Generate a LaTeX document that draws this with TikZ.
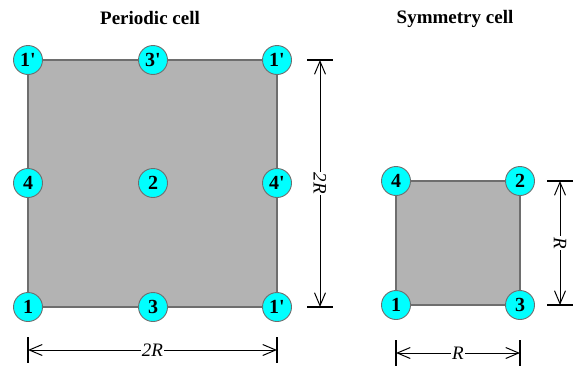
\documentclass[tikz,border=0pt]{standalone}
\usepackage{fontspec}
\setmainfont{Liberation Serif}
\usetikzlibrary{arrows.meta}
\definecolor{cellgray}{HTML}{B3B3B3}
\definecolor{edgegray}{HTML}{6E6E6E}
\definecolor{dotcyan}{HTML}{00FFFF}
\newcommand{\pr}{\textquotesingle}
\begin{document}
\begin{tikzpicture}[x=1pt,y=-1pt,
  cellbox/.style={fill=cellgray,draw=edgegray,line width=1.4pt},
  pt/.style={circle,fill=dotcyan,draw=edgegray,line width=0.9pt,minimum size=29pt,inner sep=0pt,font=\fontsize{20}{20}\selectfont\bfseries},
  title/.style={font=\fontsize{19}{20}\selectfont\bfseries},
  dimline/.style={line width=1pt,{Straight Barb[length=13pt,width=11pt]}-{Straight Barb[length=13pt,width=11pt]}},
  tick/.style={line width=1.1pt},
  dimlabel/.style={fill=white,inner sep=1pt,font=\fontsize{19}{19}\selectfont\itshape}]
\useasboundingbox (0,0) rectangle (580,367);
% titles
\node[title] (t1) at (150,18) {Periodic cell};
\node[title] (t2) at (455,19) {Symmetry cell};
% big cell
\draw[cellbox] (28,60) rectangle (277,307);
\node[pt] (a1) at (28,60) {1\pr};
\node[pt] (a2) at (153,60) {3\pr};
\node[pt] (a3) at (277,60) {1\pr};
\node[pt] (a4) at (28,183) {4};
\node[pt] (a5) at (153,183) {2};
\node[pt] (a6) at (277,183) {4\pr};
\node[pt] (a7) at (28,307) {1};
\node[pt] (a8) at (153,307) {3};
\node[pt] (a9) at (277,307) {1\pr};
% small cell
\draw[cellbox] (396,181) rectangle (520,305);
\node[pt] (b1) at (396,181) {4};
\node[pt] (b2) at (520,181) {2};
\node[pt] (b3) at (396,305) {1};
\node[pt] (b4) at (520,305) {3};
% dimension coordinates
\coordinate (v1t) at (320,60); \coordinate (v1b) at (320,307);
\coordinate (h1l) at (28,350); \coordinate (h1r) at (277,350);
\coordinate (v2t) at (560,181); \coordinate (v2b) at (560,305);
\coordinate (h2l) at (396,353); \coordinate (h2r) at (520,353);
% ticks
\draw[tick] (307,60) -- (333,60);
\draw[tick] (307,307) -- (333,307);
\draw[tick] (28,337) -- (28,363);
\draw[tick] (277,337) -- (277,363);
\draw[tick] (547,181) -- (573,181);
\draw[tick] (547,305) -- (573,305);
\draw[tick] (396,340) -- (396,366);
\draw[tick] (520,340) -- (520,366);
% dimension lines
\draw[dimline] (v1t) -- node[dimlabel,rotate=-90] {2R} (v1b);
\draw[dimline] (h1l) -- node[dimlabel] {2R} (h1r);
\draw[dimline] (v2t) -- node[dimlabel,rotate=-90] {R} (v2b);
\draw[dimline] (h2l) -- node[dimlabel] {R} (h2r);
\end{tikzpicture}
\end{document}
